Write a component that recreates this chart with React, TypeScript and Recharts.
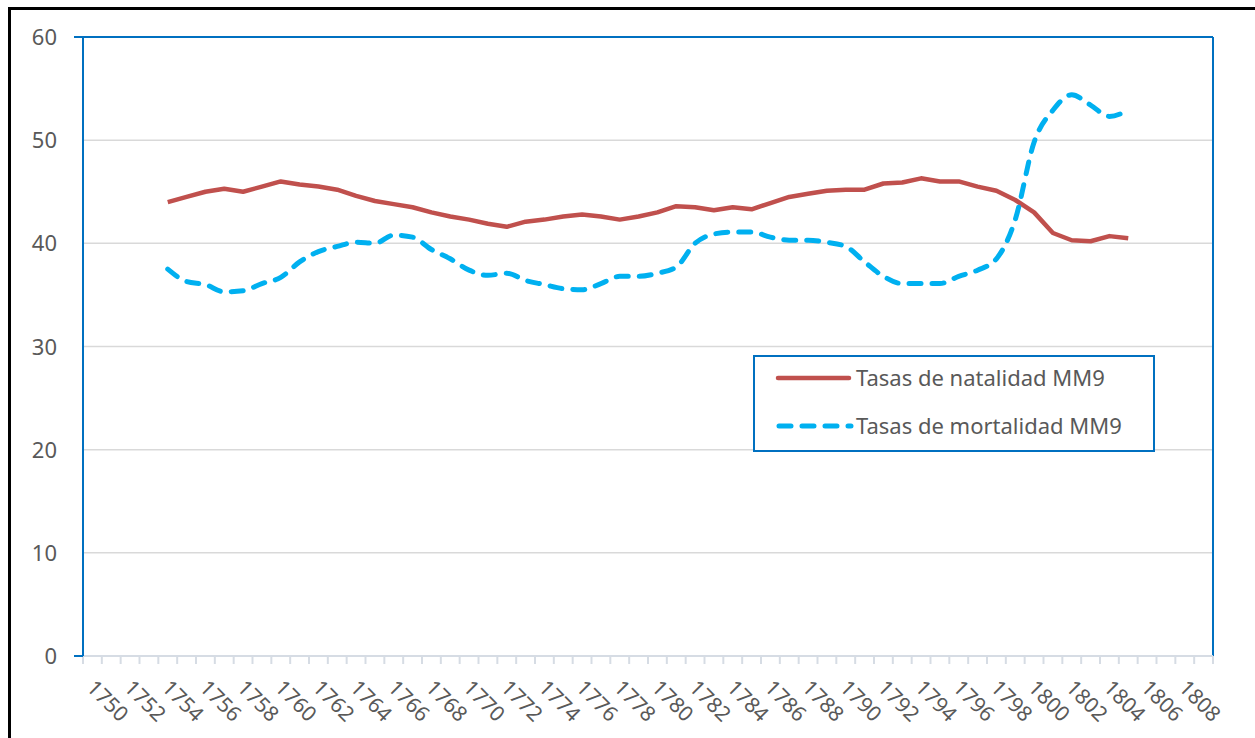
import React from 'react';
import {
  LineChart,
  Line,
  XAxis,
  YAxis,
  CartesianGrid,
  Legend,
  ReferenceLine,
} from 'recharts';

const FIRST_YEAR = 1750;
const LAST_YEAR = 1809;

const years = [
  1754, 1755, 1756, 1757, 1758, 1759, 1760, 1761, 1762, 1763,
  1764, 1765, 1766, 1767, 1768, 1769, 1770, 1771, 1772, 1773,
  1774, 1775, 1776, 1777, 1778, 1779, 1780, 1781, 1782, 1783,
  1784, 1785, 1786, 1787, 1788, 1789, 1790, 1791, 1792, 1793,
  1794, 1795, 1796, 1797, 1798, 1799, 1800, 1801, 1802, 1803,
  1804, 1805,
];

const natalidad = [
  44.0, 44.5, 45.0, 45.3, 45.0, 45.5, 46.0, 45.7, 45.5, 45.2,
  44.6, 44.1, 43.8, 43.5, 43.0, 42.6, 42.3, 41.9, 41.6, 42.1,
  42.3, 42.6, 42.8, 42.6, 42.3, 42.6, 43.0, 43.6, 43.5, 43.2,
  43.5, 43.3, 43.9, 44.5, 44.8, 45.1, 45.2, 45.2, 45.8, 45.9,
  46.3, 46.0, 46.0, 45.5, 45.1, 44.2, 43.0, 41.0, 40.3, 40.2,
  40.7, 40.5,
];

const mortalidad = [
  37.5, 36.3, 36.0, 35.3, 35.4, 36.1, 36.7, 38.2, 39.2, 39.7,
  40.1, 40.0, 40.8, 40.6, 39.4, 38.5, 37.4, 36.9, 37.1, 36.4,
  36.0, 35.6, 35.5, 36.1, 36.8, 36.8, 37.1, 37.7, 40.0, 40.9,
  41.1, 41.1, 40.6, 40.3, 40.3, 40.1, 39.7, 38.2, 36.8, 36.1,
  36.1, 36.1, 36.8, 37.4, 38.5, 42.3, 49.8, 52.9, 54.4, 53.4,
  52.3, 52.9,
];

const yTicks = [0, 10, 20, 30, 40, 50, 60];

const seriesNames = ['Tasas de natalidad MM9', 'Tasas de mortalidad MM9'];

const RED = '#C0504D';
const BLUE = '#00B0F0';
const FRAME = '#0070C0';
const TEXT = '#595959';
const FONT = '"Noto Sans", "Open Sans", sans-serif';

const data = years.map((year, i) => ({
  year,
  natalidad: natalidad[i],
  mortalidad: mortalidad[i],
}));

// tick marks sit between years, labels on every second year
const xTicks: number[] = [];
for (let y = FIRST_YEAR; y <= LAST_YEAR; y++) {
  xTicks.push(y - 0.5);
  if (y % 2 === 0) xTicks.push(y);
}
xTicks.push(LAST_YEAR + 0.5);

const XTick = ({ x, payload }: any) => {
  const v = payload.value;
  if (!Number.isInteger(v)) {
    return <line x1={x} x2={x} y1={656} y2={664} stroke="#D6DCE4" strokeWidth={2} />;
  }
  const tx = x - 7;
  const ty = 689;
  return (
    <text
      x={tx}
      y={ty}
      transform={`rotate(45, ${tx}, ${ty})`}
      textAnchor="start"
      fill={TEXT}
      fontSize={21}
      fontFamily={FONT}
    >
      {v}
    </text>
  );
};

const YTick = ({ y, payload }: any) => {
  const v = payload.value;
  return (
    <g>
      {(v === 0 || v === 60) && (
        <line x1={74} x2={83} y1={y} y2={y} stroke={FRAME} strokeWidth={2} />
      )}
      <text x={57} y={y + 8} textAnchor="end" fill={TEXT} fontSize={22} fontFamily={FONT}>
        {v}
      </text>
    </g>
  );
};

const LegendBox = () => (
  <svg width={402} height={97} style={{ display: 'block' }}>
    <rect x={1} y={1} width={400} height={95} fill="#fff" stroke={FRAME} strokeWidth={2} />
    <line x1={25} x2={96} y1={23} y2={23} stroke={RED} strokeWidth={4.5} strokeLinecap="round" />
    <text x={103} y={31} fill={TEXT} fontSize={22} fontFamily={FONT}>
      {seriesNames[0]}
    </text>
    <line
      x1={26}
      x2={98}
      y1={71}
      y2={71}
      stroke={BLUE}
      strokeWidth={5}
      strokeDasharray="12 11"
      strokeLinecap="round"
    />
    <text x={103} y={79} fill={TEXT} fontSize={22} fontFamily={FONT}>
      {seriesNames[1]}
    </text>
  </svg>
);

export default function App() {
  return (
    <div
      style={{
        position: 'fixed',
        left: 0,
        top: 0,
        width: 1255,
        height: 738,
        overflow: 'hidden',
        background: '#fff',
      }}
    >
      <div
        style={{
          position: 'absolute',
          left: 8,
          top: 7,
          width: 1400,
          height: 900,
          border: '3px solid #000',
        }}
      />
      <div style={{ position: 'absolute', left: 0, top: 0 }}>
        <LineChart
          width={1255}
          height={738}
          data={data}
          margin={{ top: 37, right: 42, left: 8, bottom: 0 }}
        >
          <CartesianGrid vertical={false} stroke="#D9D9D9" strokeWidth={1.5} yAxisId="y" xAxisId="x" />
          <XAxis
            xAxisId="x"
            dataKey="year"
            type="number"
            domain={[FIRST_YEAR - 0.5, LAST_YEAR + 0.5]}
            ticks={xTicks}
            interval={0}
            height={82}
            tickLine={false}
            axisLine={{ stroke: '#D6DCE4', strokeWidth: 2 }}
            tick={<XTick />}
            allowDataOverflow
          />
          <YAxis
            yAxisId="y"
            domain={[0, 60]}
            ticks={yTicks}
            interval={0}
            width={75}
            tickLine={false}
            axisLine={{ stroke: FRAME, strokeWidth: 2 }}
            tick={<YTick />}
          />
          <ReferenceLine xAxisId="x" yAxisId="y" y={60} stroke={FRAME} strokeWidth={2} />
          <ReferenceLine xAxisId="x" yAxisId="y" x={LAST_YEAR + 0.5} stroke={FRAME} strokeWidth={2} />
          <Line
            xAxisId="x"
            yAxisId="y"
            type="linear"
            dataKey="natalidad"
            name={seriesNames[0]}
            stroke={RED}
            strokeWidth={4.5}
            strokeLinejoin="round"
            dot={false}
            isAnimationActive={false}
          />
          <Line
            xAxisId="x"
            yAxisId="y"
            type="monotone"
            dataKey="mortalidad"
            name={seriesNames[1]}
            stroke={BLUE}
            strokeWidth={5}
            strokeDasharray="12 11"
            strokeLinecap="round"
            dot={false}
            isAnimationActive={false}
          />
          <Legend
            layout="horizontal"
            verticalAlign="middle"
            align="center"
            content={<LegendBox />}
            wrapperStyle={{ position: 'absolute', left: 753, top: 355, width: 402, height: 97 }}
          />
        </LineChart>
      </div>
    </div>
  );
}
